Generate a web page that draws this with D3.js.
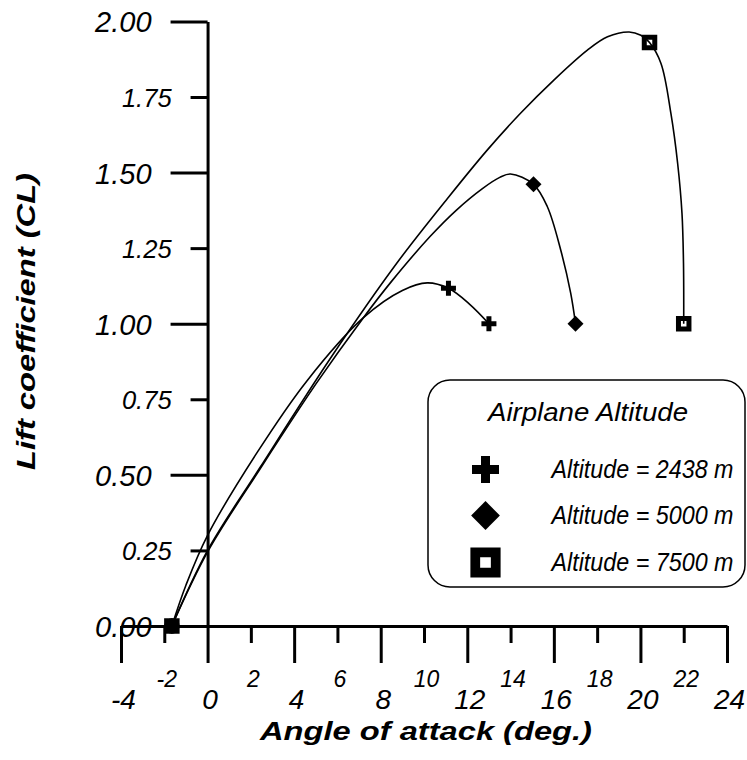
<!DOCTYPE html>
<html>
<head>
<meta charset="utf-8">
<script src="https://cdn.jsdelivr.net/npm/d3@7"></script>
<style>
  body { margin: 0; background: #fff; }
  svg { display: block; }
  text { font-family: "Liberation Sans", Arial, Helvetica, sans-serif; fill: #000; }
</style>
</head>
<body>
<svg id="chart" width="747" height="760"></svg>
<script>
// Axis ticks
const angleTicksMajor = [-4, 0, 4, 8, 12, 16, 20, 24];
const angleTicksMinor = [-2, 2, 6, 10, 14, 18, 22];
const clTicksMajor = [0, 0.5, 1.0, 1.5, 2.0];
const clTicksMinor = [0.25, 0.75, 1.25, 1.75];

// Series
const seriesNames = ["Altitude = 2438 m", "Altitude = 5000 m", "Altitude = 7500 m"];
const seriesSymbols = ["plus", "diamond", "square"];

// Measured points [angle (deg), CL]
const markers2438 = [[-1.65, 0], [11.13, 1.117], [13.0, 1.0]];
const markers5000 = [[-1.65, 0], [15.06, 1.461], [17.0, 1.0]];
const markers7500 = [[-1.65, 0], [20.42, 1.930], [22.0, 1.0]];

// Fitted lift curves [angle (deg), CL]
const curve2438 = [[-1.65, 0], [-1.0, 0.135], [0, 0.30], [2.3, 0.575], [4.58, 0.81], [7.2, 1.02],
  [9.0, 1.11], [10.15, 1.135], [11.13, 1.117], [12.1, 1.065], [13.0, 1.0]];
const curve5000 = [[-1.65, 0], [0, 0.245], [2.43, 0.52], [5.0, 0.80], [7.2, 1.02], [8.5, 1.14],
  [10.3, 1.29], [11.5, 1.376], [12.7, 1.447], [13.5, 1.484], [14.0, 1.495], [15.06, 1.461],
  [15.70, 1.387], [16.32, 1.243], [16.78, 1.10], [17.0, 1.0]];
const curve7500 = [[-1.65, 0], [0, 0.25], [2.43, 0.525], [5.67, 0.885], [8.74, 1.20], [11.15, 1.42],
  [12.93, 1.575], [14.47, 1.697], [16.0, 1.806], [17.55, 1.905], [18.48, 1.949], [19.48, 1.965],
  [20.02, 1.954], [20.42, 1.930], [20.95, 1.861], [21.41, 1.695], [21.72, 1.53], [21.92, 1.365],
  [21.99, 1.20], [22.0, 1.0]];

const seriesCurves = [curve2438, curve5000, curve7500];
const seriesMarkers = [markers2438, markers5000, markers7500];

const svg = d3.select("#chart");
const x = d3.scaleLinear().domain([-4, 24]).range([121, 727]);
const y = d3.scaleLinear().domain([0, 2]).range([626, 21.4]);
const fmtCL = d3.format(".2f");
const fmtAngle = d => String(d);   // plain hyphen for negatives

function styleAxis(g, fontSize) {
  g.selectAll("path.domain").attr("stroke", "#000").attr("stroke-width", 3);
  g.selectAll(".tick line").attr("stroke", "#000").attr("stroke-width", 3);
  g.selectAll(".tick text")
    .attr("font-size", fontSize)
    .attr("font-style", "italic")
    .attr("font-family", "'Liberation Sans', Arial, sans-serif")
    .attr("fill", "#000");
}

// Y axis (major + minor ticks)
const yMaj = svg.append("g").attr("transform", `translate(${x(0)},0)`)
  .call(d3.axisLeft(y).tickValues(clTicksMajor).tickSize(37).tickSizeOuter(0)
    .tickPadding(19).tickFormat(fmtCL));
styleAxis(yMaj, 29);
yMaj.selectAll(".tick text").attr("dy", "0.36em");

const yMin = svg.append("g").attr("transform", `translate(${x(0)},0)`)
  .call(d3.axisLeft(y).tickValues(clTicksMinor).tickSize(17).tickSizeOuter(0)
    .tickPadding(19).tickFormat(fmtCL));
styleAxis(yMin, 25.5);
yMin.selectAll(".tick text").attr("dy", "0.36em");
yMin.select("path.domain").remove();

// X axis (major + minor ticks)
const xMaj = svg.append("g").attr("transform", `translate(0,${y(0)})`)
  .call(d3.axisBottom(x).tickValues(angleTicksMajor).tickSize(37).tickSizeOuter(0)
    .tickPadding(26).tickFormat(fmtAngle));
styleAxis(xMaj, 28);
xMaj.selectAll(".tick text").attr("dx", 2);

const xMin = svg.append("g").attr("transform", `translate(0,${y(0)})`)
  .call(d3.axisBottom(x).tickValues(angleTicksMinor).tickSize(17).tickSizeOuter(0)
    .tickPadding(28).tickFormat(fmtAngle));
styleAxis(xMin, 23);
xMin.selectAll(".tick text").attr("dx", 2);
xMin.select("path.domain").remove();

// Axis titles
svg.append("text")
  .attr("x", 426).attr("y", 740)
  .attr("text-anchor", "middle")
  .attr("font-size", 26.5).attr("font-weight", "bold").attr("font-style", "italic")
  .attr("textLength", 332).attr("lengthAdjust", "spacingAndGlyphs")
  .text("Angle of attack (deg.)");

svg.append("text")
  .attr("transform", "translate(34.5,321.5) rotate(-90)")
  .attr("text-anchor", "middle")
  .attr("font-size", 26.5).attr("font-weight", "bold").attr("font-style", "italic")
  .attr("textLength", 297).attr("lengthAdjust", "spacingAndGlyphs")
  .text("Lift coefficient (CL)");

// Curves
const line = d3.line()
  .x(d => x(d[0])).y(d => y(d[1]))
  .curve(d3.curveCatmullRom.alpha(0.5));

svg.append("g").selectAll("path.curve")
  .data(seriesCurves)
  .join("path")
  .attr("class", "curve")
  .attr("d", line)
  .attr("fill", "none")
  .attr("stroke", "#000")
  .attr("stroke-width", 1.6);

// Marker drawing
function drawSymbol(sel, type, scale) {
  if (type === "plus") {
    sel.append("path")
      .attr("d", d3.symbol(d3.symbolCross, 125 * scale * scale)())
      .attr("fill", "#000");
  } else if (type === "diamond") {
    sel.append("path")
      .attr("d", d3.symbol(d3.symbolSquare, 128 * scale * scale)())
      .attr("transform", "rotate(45)")
      .attr("fill", "#000");
  } else {
    sel.append("path")
      .attr("d", d3.symbol(d3.symbolSquare, 110 * scale * scale)())
      .attr("fill", "none")
      .attr("stroke", "#000")
      .attr("stroke-width", 5 * scale);
  }
}

seriesMarkers.forEach((pts, i) => {
  svg.append("g").selectAll("g")
    .data(pts)
    .join("g")
    .attr("transform", d => `translate(${x(d[0])},${y(d[1])})`)
    .each(function () { drawSymbol(d3.select(this), seriesSymbols[i], 1); });
});

// Legend
const legend = svg.append("g");
legend.append("rect")
  .attr("x", 428).attr("y", 380).attr("width", 317).attr("height", 207)
  .attr("rx", 22).attr("ry", 22)
  .attr("fill", "#fff").attr("stroke", "#000").attr("stroke-width", 1.5);
legend.append("text")
  .attr("x", 588).attr("y", 421)
  .attr("text-anchor", "middle")
  .attr("font-size", 25).attr("font-style", "italic")
  .attr("textLength", 200).attr("lengthAdjust", "spacingAndGlyphs")
  .text("Airplane Altitude");

const rowY = [469.5, 515.5, 562.5];
seriesNames.forEach((name, i) => {
  const g = legend.append("g").attr("transform", `translate(485.5,${rowY[i]})`);
  drawSymbol(g, seriesSymbols[i], seriesSymbols[i] === "square" ? 1.95 : 1.8);
  legend.append("text")
    .attr("x", 551.5).attr("y", rowY[i] + 8.5)
    .attr("font-size", 25).attr("font-style", "italic")
    .attr("textLength", 182).attr("lengthAdjust", "spacingAndGlyphs")
    .text(name);
});
</script>
</body>
</html>
